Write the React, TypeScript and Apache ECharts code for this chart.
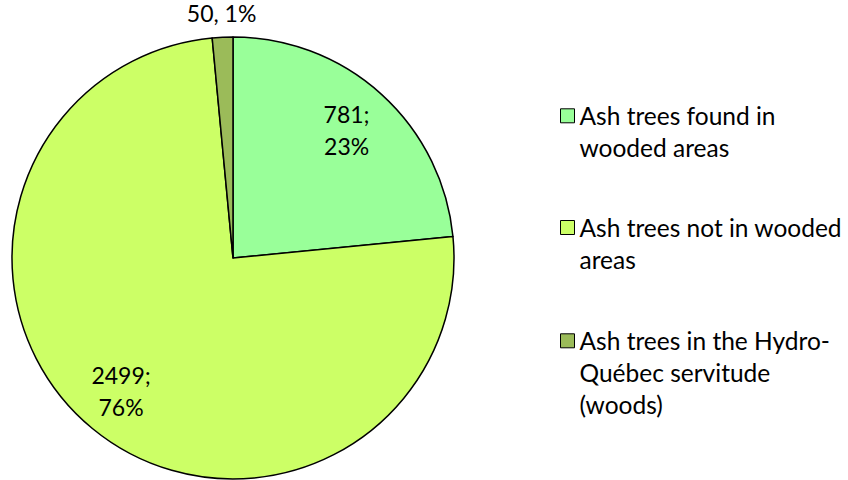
import React, { useEffect, useRef } from "react";
import * as echarts from "echarts";

const categories = [
  "Ash trees found in wooded areas",
  "Ash trees not in wooded areas",
  "Ash trees in the Hydro-Québec servitude (woods)",
];
const legendLabels = [
  "Ash trees found in\nwooded areas",
  "Ash trees not in wooded\nareas",
  "Ash trees in the Hydro-\nQuébec servitude\n(woods)",
];
const values = [781, 2499, 50];
const percentLabels = ["23%", "76%", "1%"];
const colors = ["#99FF99", "#CCFF66", "#9BBB59"];

const CX = 233;
const CY = 258;
const R = 221;
const labelRadius = [0.765, 0.796, 1.095];
const FONT = "Lato";
const FS = 23;
const LFS = 24.5;
const LH = 32;
const legendIconCenters = [115.8, 227.5, 340.8];

export default function App() {
  const ref = useRef<HTMLDivElement>(null);
  useEffect(() => {
    if (!ref.current) return;
    const chart = echarts.init(ref.current, null, { renderer: "svg" });
    const legends = categories.map((name, i) => {
      const n = legendLabels[i].split("\n").length;
      const total = 2 * n - 1;
      return {
        show: true,
        orient: "vertical" as const,
        left: 560,
        top: legendIconCenters[i] - (total * LH) / 2,
        padding: 0,
        itemWidth: 14,
        itemHeight: 14,
        selectedMode: false,
        icon: "rect",
        itemStyle: { borderColor: "#000", borderWidth: 1 },
        formatter: (nm: string) => {
          const k = categories.indexOf(nm);
          const lines = legendLabels[k].split("\n");
          const pad: string[] = [];
          for (let j = 0; j < lines.length - 1; j++) pad.push(" ");
          return pad.concat(lines).join("\n");
        },
        data: [name],
        textStyle: {
          fontFamily: FONT,
          fontSize: LFS,
          lineHeight: LH,
          color: "#000",
        },
      };
    });
    chart.setOption({
      animation: false,
      backgroundColor: "#fff",
      legend: legends,
      series: [
        {
          type: "pie",
          center: [CX, CY],
          radius: R,
          startAngle: 90,
          clockwise: true,
          avoidLabelOverlap: false,
          emphasis: { disabled: true },
          itemStyle: { borderColor: "#000", borderWidth: 1.5 },
          label: {
            show: true,
            position: "inside",
            fontFamily: FONT,
            fontSize: FS,
            lineHeight: LH,
            color: "#000",
            formatter: (p: any) =>
              p.dataIndex === 2
                ? `${values[p.dataIndex]}, ${percentLabels[p.dataIndex]}`
                : `${values[p.dataIndex]};\n${percentLabels[p.dataIndex]}`,
          },
          labelLine: { show: false },
          labelLayout: (params: any) => {
            const r = params.labelRect;
            const lx = r.x + r.width / 2;
            const ly = r.y + r.height / 2;
            const vx = lx - CX;
            const vy = ly - CY;
            const len = Math.hypot(vx, vy) || 1;
            const target = labelRadius[params.dataIndex] * R;
            return {
              dx: (vx / len) * target - vx,
              dy: (vy / len) * target - vy - 3,
            };
          },
          data: categories.map((name, i) => ({
            name,
            value: values[i],
            itemStyle: { color: colors[i] },
          })),
        },
      ],
    });
    return () => chart.dispose();
  }, []);
  return (
    <div
      ref={ref}
      style={{ position: "fixed", left: 0, top: 0, width: 848, height: 480 }}
    />
  );
}
